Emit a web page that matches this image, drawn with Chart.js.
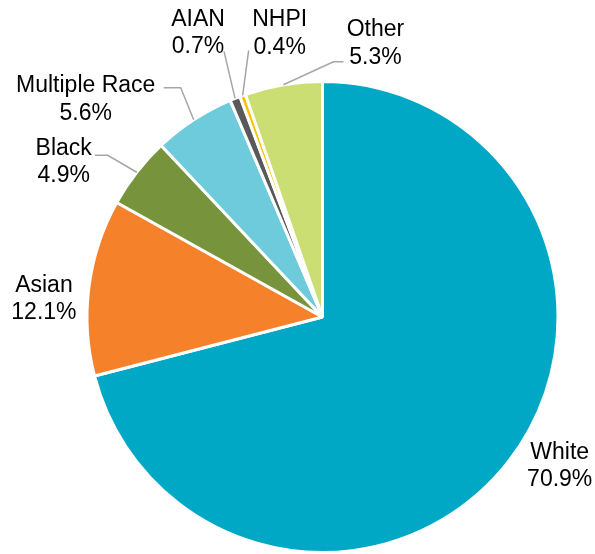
<!DOCTYPE html>
<html>
<head>
<meta charset="utf-8">
<script src="https://cdn.jsdelivr.net/npm/chart.js@4"></script>
<style>
  html, body { margin: 0; padding: 0; background: #fff; }
  canvas { display: block; }
</style>
</head>
<body>
<canvas id="raceChart" width="595" height="554"></canvas>
<script>
const categories = ['White', 'Asian', 'Black', 'Multiple Race', 'AIAN', 'NHPI', 'Other'];
const shares = [70.9, 12.1, 4.9, 5.6, 0.7, 0.4, 5.3];
const sliceColors = ['#00A8C6', '#F5822A', '#77933C', '#6DCBDC', '#595959', '#FFC000', '#CADE73'];

// label placement, offsets from the slice's outer edge at its mid angle
const labelLayout = [
  { dx: 51, dy: 5, leader: null },
  { dx: -45, dy: 12, leader: null },
  { dx: -73, dy: -10, leader: [[-29, -17], [-42, -17]] },
  { dx: -108, dy: -20, leader: [[-13, -32], [-30, -32]] },
  { dx: -37, dy: -65, leader: [[-11, -47]] },
  { dx: 37, dy: -62, leader: [[6, -45]] },
  { dx: 92, dy: -41, leader: [[50, -23], [60, -23]] }
];

const pieLabels = {
  id: 'pieLabels',
  afterDatasetsDraw(chart) {
    const ctx = chart.ctx;
    const meta = chart.getDatasetMeta(0);
    ctx.save();
    ctx.font = '23px "Liberation Sans", Arial, sans-serif';
    ctx.textAlign = 'center';
    ctx.textBaseline = 'middle';
    meta.data.forEach((arc, i) => {
      const p = arc.getProps(['x', 'y', 'startAngle', 'endAngle', 'outerRadius'], true);
      const mid = (p.startAngle + p.endAngle) / 2;
      const ex = p.x + Math.cos(mid) * p.outerRadius;
      const ey = p.y + Math.sin(mid) * p.outerRadius;
      const lay = labelLayout[i];
      if (lay.leader) {
        ctx.strokeStyle = '#A6A6A6';
        ctx.lineWidth = 1.5;
        ctx.beginPath();
        ctx.moveTo(ex, ey);
        lay.leader.forEach(pt => ctx.lineTo(ex + pt[0], ey + pt[1]));
        ctx.stroke();
      }
      const lx = ex + lay.dx;
      const ly = ey + lay.dy;
      ctx.fillStyle = '#000';
      ctx.fillText(categories[i], lx, ly - 13.75);
      ctx.fillText(shares[i].toFixed(1) + '%', lx, ly + 13.75);
    });
    ctx.restore();
  }
};

new Chart(document.getElementById('raceChart'), {
  type: 'pie',
  data: {
    labels: categories,
    datasets: [{
      data: shares,
      backgroundColor: sliceColors,
      borderColor: '#ffffff',
      borderWidth: 3
    }]
  },
  options: {
    responsive: false,
    animation: false,
    layout: { padding: { left: 85, right: 35, top: 80, bottom: 0 } },
    plugins: {
      legend: { display: false },
      tooltip: { enabled: false }
    }
  },
  plugins: [pieLabels]
});
</script>
</body>
</html>
